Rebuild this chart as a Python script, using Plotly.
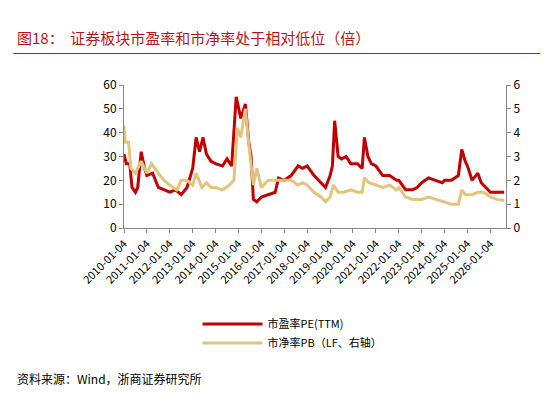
import pandas as pd
import plotly.graph_objects as go

pe_t = [2010.0, 2010.1, 2010.25, 2010.35, 2010.5, 2010.6, 2010.75, 2010.9, 2011.0, 2011.25, 2011.5, 2011.75,
        2012.0, 2012.25, 2012.5, 2012.75, 2013.0, 2013.15, 2013.3, 2013.45, 2013.6, 2013.8, 2014.0, 2014.3,
        2014.5, 2014.7, 2014.9, 2015.1, 2015.3, 2015.45, 2015.55, 2015.65, 2015.8, 2016.0, 2016.3, 2016.6,
        2016.75, 2017.0, 2017.3, 2017.6, 2017.8, 2018.0, 2018.3, 2018.6, 2018.8, 2019.0, 2019.1, 2019.2,
        2019.35, 2019.5, 2019.7, 2019.9, 2020.0, 2020.2, 2020.4, 2020.5, 2020.65, 2020.8, 2021.0, 2021.3,
        2021.6, 2021.9, 2022.0, 2022.3, 2022.6, 2022.8, 2023.0, 2023.3, 2023.6, 2023.9, 2024.0, 2024.3,
        2024.6, 2024.75, 2024.9, 2025.0, 2025.2, 2025.45, 2025.6, 2025.8, 2026.0, 2026.3, 2026.6]
pe = [31, 27, 27, 17, 15, 17, 32, 25, 22, 23, 17, 16,
      15, 16, 14, 17, 25, 38, 32, 38, 31, 28, 27, 26,
      29, 26, 55, 46, 52, 36, 30, 12, 11, 13, 14, 15,
      21, 20, 22, 26, 25, 26, 22, 19, 17, 22, 26, 45,
      30, 29, 30, 27, 27, 27, 25, 38, 30, 27, 26, 22,
      22, 20, 20, 16, 16, 17, 19, 21, 20, 19, 20, 20,
      22, 33, 28, 26, 20, 23, 19, 17, 15, 15, 15]

pb_t = [2010.0, 2010.05, 2010.2, 2010.3, 2010.5, 2010.75, 2011.0, 2011.2, 2011.5, 2011.75, 2012.0, 2012.3,
        2012.5, 2012.75, 2013.0, 2013.15, 2013.4, 2013.6, 2013.8, 2014.0, 2014.3, 2014.6, 2014.8, 2014.95,
        2015.1, 2015.3, 2015.45, 2015.55, 2015.65, 2015.8, 2016.0, 2016.3, 2016.6, 2016.9, 2017.3, 2017.6,
        2017.8, 2018.0, 2018.3, 2018.6, 2018.8, 2019.0, 2019.15, 2019.35, 2019.6, 2019.9, 2020.2, 2020.4,
        2020.5, 2020.7, 2021.0, 2021.3, 2021.6, 2021.9, 2022.0, 2022.3, 2022.6, 2022.9, 2023.0, 2023.3,
        2023.6, 2023.9, 2024.0, 2024.3, 2024.6, 2024.75, 2024.9, 2025.0, 2025.2, 2025.45, 2025.7, 2026.0,
        2026.3, 2026.6]
pb = [4.3, 3.6, 3.6, 2.5, 2.3, 2.8, 2.3, 2.7, 2.3, 2.0, 1.8, 1.6,
      2.0, 2.0, 1.8, 2.3, 1.7, 1.9, 1.7, 1.7, 1.6, 1.8, 2.0, 4.2,
      3.8, 5.0, 3.5, 2.7, 1.8, 2.5, 1.7, 2.0, 2.0, 2.0, 2.0, 1.8,
      1.9, 1.8, 1.5, 1.3, 1.1, 1.3, 1.8, 1.5, 1.5, 1.6, 1.5, 1.5,
      2.1, 1.9, 1.8, 1.7, 1.8, 1.6, 1.7, 1.3, 1.2, 1.2, 1.2, 1.3,
      1.2, 1.1, 1.1, 1.0, 1.0, 1.6, 1.4, 1.4, 1.4, 1.5, 1.5, 1.3,
      1.2, 1.15]

tick_labels = [f"{y}-01-04" for y in range(2010, 2027)]


def to_date(years):
    base = pd.Timestamp("2010-01-04")
    return [base + pd.Timedelta(days=(y - 2010) * 365.25) for y in years]


fig = go.Figure()
fig.add_trace(go.Scatter(x=to_date(pe_t), y=pe, mode="lines", name="市盈率PE(TTM)",
                         line=dict(color="#c00000", width=3)))
fig.add_trace(go.Scatter(x=to_date(pb_t), y=pb, mode="lines", name="市净率PB（LF、右轴）",
                         line=dict(color="#e3c47f", width=3), yaxis="y2"))

font = "Noto Sans CJK SC"
fig.update_layout(
    width=548, height=403, margin=dict(l=116, r=50, t=77, b=183, autoexpand=False),
    paper_bgcolor="white", plot_bgcolor="white",
    font=dict(family=font, size=12, color="#000"),
    showlegend=True,
    legend=dict(orientation="h", x=0.5, xanchor="center", y=-0.57, yanchor="top",
                font=dict(size=11), itemwidth=60, entrywidth=160),
    xaxis=dict(range=[pd.Timestamp("2010-01-04"), pd.Timestamp("2026-09-10")],
               tickvals=pd.to_datetime(tick_labels), ticktext=tick_labels, tickangle=-45,
               showgrid=False, showline=True, linecolor="#888", ticks="outside", ticklen=4,
               tickcolor="#888", tickfont=dict(size=11)),
    yaxis=dict(range=[0, 60], dtick=10, showgrid=False, showline=True, linecolor="#888",
               ticks="outside", ticklen=4, tickcolor="#888", zeroline=False),
    yaxis2=dict(range=[0, 6], dtick=1, overlaying="y", side="right", showgrid=False,
                showline=True, linecolor="#888", ticks="outside", ticklen=4, tickcolor="#888",
                zeroline=False),
)
fig.add_annotation(text="图18：  证券板块市盈率和市净率处于相对低位（倍）", xref="paper", yref="paper",
                   x=-0.285, y=1.33, xanchor="left", yanchor="middle", showarrow=False,
                   font=dict(size=15, color="#b5161b"))
fig.add_shape(type="line", xref="paper", yref="paper", x0=-0.29, x1=1.13, y0=1.22, y1=1.22,
              line=dict(color="#b5161b", width=1))
fig.add_annotation(text="资料来源：Wind，浙商证券研究所", xref="paper", yref="paper",
                   x=-0.285, y=-1.05, xanchor="left", yanchor="middle", showarrow=False,
                   font=dict(size=12))
fig.write_html("out.html")
